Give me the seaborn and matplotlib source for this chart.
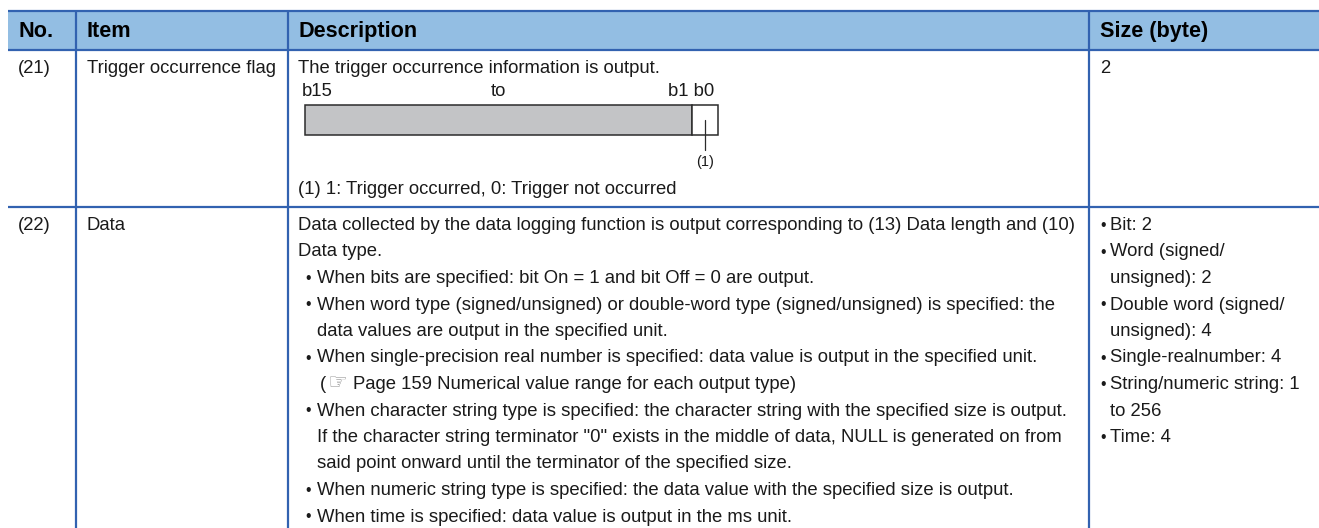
import seaborn as sns
import matplotlib.pyplot as plt
from matplotlib.patches import Rectangle

# contenuto della tabella
columns = ["No.", "Item", "Description", "Size (byte)"]
row_numbers = ["(21)", "(22)"]
row_items = ["Trigger occurrence flag", "Data"]

desc_21_intro = "The trigger occurrence information is output."
bit_labels = ["b15", "to", "b1 b0"]
bit_callout = "(1)"
desc_21_note = "(1) 1: Trigger occurred, 0: Trigger not occurred"
size_21 = ["2"]

desc_22_lines = [
    "Data collected by the data logging function is output corresponding to (13) Data length and (10)",
    "Data type.",
    "• When bits are specified: bit On = 1 and bit Off = 0 are output.",
    "• When word type (signed/unsigned) or double-word type (signed/unsigned) is specified: the",
    "  data values are output in the specified unit.",
    "• When single-precision real number is specified: data value is output in the specified unit.",
    "  (☞Page 159 Numerical value range for each output type)",
    "• When character string type is specified: the character string with the specified size is output.",
    "  If the character string terminator \"0\" exists in the middle of data, NULL is generated on from",
    "  said point onward until the terminator of the specified size.",
    "• When numeric string type is specified: the data value with the specified size is output.",
    "• When time is specified: data value is output in the ms unit.",
]
size_22_lines = [
    "• Bit: 2",
    "• Word (signed/",
    "  unsigned): 2",
    "• Double word (signed/",
    "  unsigned): 4",
    "• Single-realnumber: 4",
    "• String/numeric string: 1",
    "  to 256",
    "• Time: 4",
]

sns.set_theme(style="white")
plt.rcParams['font.family'] = ['Liberation Sans', 'DejaVu Sans']

W, H = 1319, 528
fig = plt.figure(figsize=(W / 100, H / 100), dpi=100)
ax = fig.add_axes([0, 0, 1, 1])
ax.set_xlim(0, W)
ax.set_ylim(H, 0)
ax.axis('off')

line_col = "#3262b0"
head_col = "#93bee3"
txt_col = "#1a1a1a"
fs = 13.3
lh = 26.5

col_x = [8, 76, 288, 1089]
text_x = [19, 87, 298, 1100]
head_top, head_bot, row_sep = 11, 50, 207

# intestazione
ax.add_patch(Rectangle((col_x[0], head_top), W - col_x[0], head_bot - head_top,
                       facecolor=head_col, edgecolor='none'))
for name, x in zip(columns, text_x):
    ax.text(x, 37, name, fontsize=15.6, fontweight='bold', color='black', va='baseline')

# griglia
for y in [head_top, head_bot, row_sep]:
    ax.plot([col_x[0], W], [y, y], color=line_col, lw=1.6, solid_capstyle='butt')
for x in col_x[1:]:
    ax.plot([x, x], [head_top, H], color=line_col, lw=1.6, solid_capstyle='butt')


def put(x, y, s, **kw):
    ax.text(x, y, s, fontsize=kw.pop('fontsize', fs), color=txt_col, va='baseline', **kw)


def block(lines, x0, y0, bx, tx):
    for i, s in enumerate(lines):
        y = y0 + i * lh
        if s.startswith("• "):
            put(bx, y, "•", fontsize=fs - 2)
            put(tx, y, s[2:])
        elif s.startswith("  "):
            s = s[2:]
            if "☞" in s:
                put(tx + 3, y, "(")
                ax.text(tx + 10, y, "☞", fontsize=16, color="#9a9a9a", va='baseline',
                        family=['DejaVu Sans'])
                put(tx + 36, y, s.split("☞")[1])
            else:
                put(tx, y, s)
        else:
            put(x0, y, s)


# riga (21)
put(text_x[0] - 1, 73, row_numbers[0])
put(text_x[1], 73, row_items[0])
put(text_x[2], 73, desc_21_intro)
put(302, 96, bit_labels[0])
put(498, 96, bit_labels[1], ha='center')
put(714, 96, bit_labels[2], ha='right')
ax.add_patch(Rectangle((305, 105), 387, 30, facecolor="#c3c4c6", edgecolor="#2b2b2b", lw=1.1))
ax.add_patch(Rectangle((692, 105), 26, 30, facecolor="white", edgecolor="#2b2b2b", lw=1.1))
ax.plot([705, 705], [120, 150], color="#2b2b2b", lw=0.9)
put(705, 166, bit_callout, ha='center', fontsize=10.5)
put(text_x[2], 194, desc_21_note)
put(text_x[3], 73, size_21[0])

# riga (22)
y0 = 230
put(text_x[0] - 1, y0, row_numbers[1])
put(text_x[1], y0, row_items[1])
block(desc_22_lines, text_x[2], y0, 305, 317)
block(size_22_lines, text_x[3], y0, 1100, 1110)

plt.savefig('out.png', dpi=100)
